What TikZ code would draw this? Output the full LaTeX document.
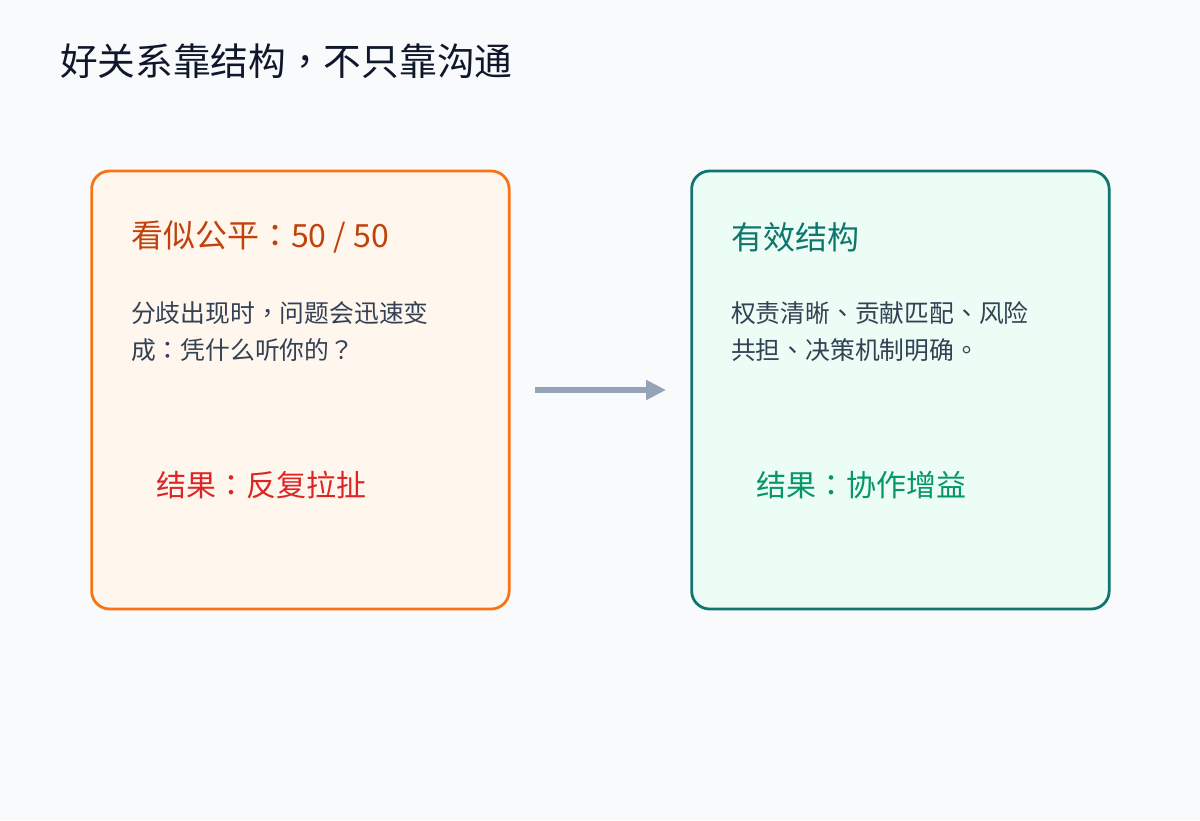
\documentclass[tikz,border=0pt]{standalone}
\usepackage{fontspec}
\setmainfont{Noto Sans CJK SC}
\newfontfamily\tcpunct{Noto Sans CJK TC}
\newcommand{\pc}[1]{{\tcpunct #1}}
\usetikzlibrary{arrows.meta}
\definecolor{bgc}{HTML}{F8FAFC}
\definecolor{titlec}{HTML}{0F172A}
\definecolor{bodyc}{HTML}{334155}
\definecolor{orangeb}{HTML}{F97316}
\definecolor{orangef}{HTML}{FFF7ED}
\definecolor{orangeh}{HTML}{C2410C}
\definecolor{redr}{HTML}{DC2626}
\definecolor{tealb}{HTML}{0F766E}
\definecolor{tealf}{HTML}{ECFDF5}
\definecolor{greenr}{HTML}{059669}
\definecolor{arrowc}{HTML}{94A3B8}
\tikzset{
  panel/.style={rectangle, rounded corners=18pt, line width=2.8pt, minimum width=417.5pt, minimum height=438pt, inner sep=0pt},
  txt/.style={anchor=west, inner sep=0pt, outer sep=0pt},
  headtxt/.style={txt, font=\fontsize{32}{38}\selectfont},
  bodytxt/.style={txt, font=\fontsize{24.8}{30}\selectfont, text=bodyc},
  restxt/.style={txt, font=\fontsize{30}{36}\selectfont},
  conn/.style={line width=6pt, draw=arrowc, -{Triangle[length=20pt,width=19pt]}}
}
\begin{document}
\begin{tikzpicture}[x=1pt,y=-1pt]
  \fill[bgc] (0,0) rectangle (1200,820);
  \useasboundingbox (0,0) rectangle (1200,820);
  \node[txt, font=\fontsize{37.7}{44}\selectfont, text=titlec] (title) at (60,61.5) {好关系靠结构\pc{，}不只靠沟通};
  % left panel
  \node[panel, draw=orangeb, fill=orangef] (left) at (300.4,390) {};
  \node[headtxt, text=orangeh] (lhead) at (131,237) {看似公平\pc{：}50 / 50};
  \node[bodytxt] (lb1) at (131,313) {分歧出现时\pc{，}问题会迅速变};
  \node[bodytxt] (lb2) at (131,350) {成\pc{：}凭什么听你的\pc{？}};
  \node[restxt, text=redr] (lres) at (156,485) {结果\pc{：}反复拉扯};
  % right panel
  \node[panel, draw=tealb, fill=tealf] (right) at (900.4,390) {};
  \node[headtxt, text=tealb] (rhead) at (731,237) {有效结构};
  \node[bodytxt] (rb1) at (731,313) {权责清晰\pc{、}贡献匹配\pc{、}风险};
  \node[bodytxt] (rb2) at (731,350) {共担\pc{、}决策机制明确\pc{。}};
  \node[restxt, text=greenr] (rres) at (756,485) {结果\pc{：}协作增益};
  % arrow
  \coordinate (a1) at (535,390);
  \coordinate (a2) at (666,390);
  \draw[conn] (a1) -- (a2);
\end{tikzpicture}
\end{document}
